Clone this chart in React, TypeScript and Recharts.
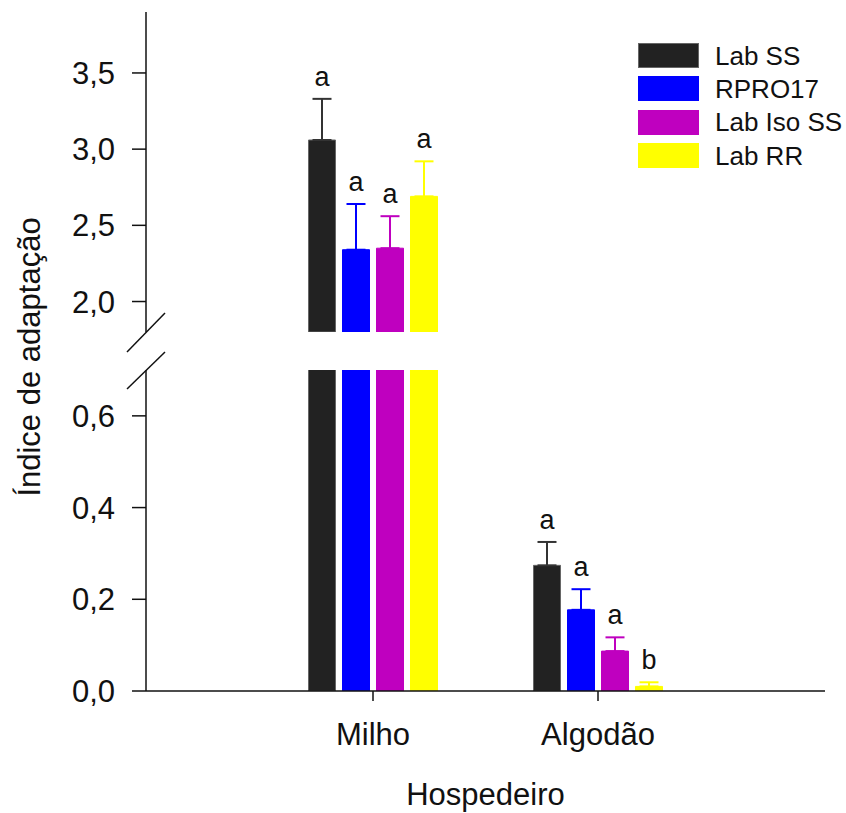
import React from 'react';
import { BarChart, Bar, XAxis, YAxis, ErrorBar, LabelList, Legend, Label } from 'recharts';

const categories = ['Milho', 'Algodão'];
const seriesNames = ['Lab SS', 'RPRO17', 'Lab Iso SS', 'Lab RR'];

const labSS = [3.06, 0.274];
const labSSErr = [0.27, 0.051];
const labSSLetters = ['a', 'a'];

const rpro17 = [2.34, 0.177];
const rpro17Err = [0.30, 0.045];
const rpro17Letters = ['a', 'a'];

const labIsoSS = [2.35, 0.087];
const labIsoSSErr = [0.21, 0.030];
const labIsoSSLetters = ['a', 'a'];

const labRR = [2.69, 0.010];
const labRRErr = [0.23, 0.009];
const labRRLetters = ['a', 'b'];

const upperTicks = [2.0, 2.5, 3.0, 3.5];
const lowerTicks = [0, 0.2, 0.4, 0.6];
const upperDomain: [number, number] = [1.8, 3.9];
const lowerDomain: [number, number] = [0, 0.7];

const FONT = '"Liberation Sans", Arial, Helvetica, sans-serif';

const series = [
  { key: 's0', name: seriesNames[0], values: labSS, errs: labSSErr, letters: labSSLetters, fill: '#222222', stroke: '#666666', err: '#333333' },
  { key: 's1', name: seriesNames[1], values: rpro17, errs: rpro17Err, letters: rpro17Letters, fill: '#0000ff', stroke: '#0000ff', err: '#0000ff' },
  { key: 's2', name: seriesNames[2], values: labIsoSS, errs: labIsoSSErr, letters: labIsoSSLetters, fill: '#bf00bf', stroke: '#bf00bf', err: '#bf00bf' },
  { key: 's3', name: seriesNames[3], values: labRR, errs: labRRErr, letters: labRRLetters, fill: '#ffff00', stroke: '#ffff00', err: '#ffff00' },
];

// Build the table for one segment of the broken axis: values under the segment's floor are left out.
function buildData(domain: [number, number]) {
  return categories.map((c, i) => {
    const row: any = { name: c };
    series.forEach((s) => {
      const v = s.values[i];
      const visible = v >= domain[0];
      row[s.key] = visible ? v : null;
      row[s.key + 'Err'] = visible ? [0, s.errs[i]] : null;
    });
    return row;
  });
}

const upperData = buildData(upperDomain);
const lowerData = buildData(lowerDomain);

const fmt = (v: number) => v.toFixed(1).replace('.', ',');

function makeLetter(s: any, domain: [number, number]) {
  return (props: any) => {
    const vb = props.viewBox || {};
    const x = props.x ?? vb.x;
    const y = props.y ?? vb.y;
    const width = props.width ?? vb.width;
    const height = props.height ?? vb.height;
    const index = props.index;
    const value = s.values[index];
    if (value == null || value < domain[0] || value > domain[1]) return null;
    const top = Math.min(y, y + height);
    const h = Math.abs(height);
    const ppu = h / (value - domain[0]);
    const ly = top - s.errs[index] * ppu - 13;
    return (
      <text x={x + width / 2} y={ly} textAnchor="middle" fontSize={27} fontFamily={FONT} fill="#111">
        {s.letters[index]}
      </text>
    );
  };
}

const LegendContent = () => (
  <div style={{ fontFamily: FONT }}>
    {series.map((s) => (
      <div key={s.key} style={{ display: 'flex', alignItems: 'center', height: 33.3 }}>
        <div style={{ width: 61, height: 25, background: s.fill, boxSizing: 'border-box', border: s.key === 's0' ? '1px solid #666' : 'none' }} />
        <span style={{ marginLeft: 16, fontSize: 26, color: '#111', lineHeight: '26px' }}>{s.name}</span>
      </div>
    ))}
  </div>
);

function renderBars(domain: [number, number]) {
  return series.map((s) => (
    <Bar key={s.key} dataKey={s.key} name={s.name} fill={s.fill} stroke={s.stroke} strokeWidth={1} barSize={27} isAnimationActive={false}>
      <ErrorBar dataKey={s.key + 'Err'} width={9.5} stroke={s.err} strokeWidth={2} direction="y" />
      <LabelList dataKey={s.key} content={makeLetter(s, domain)} />
    </Bar>
  ));
}

const tickStyle = { fontSize: 31, fontFamily: FONT, fill: '#111' };

export default function App() {
  return (
    <div style={{ position: 'absolute', left: 0, top: 0, width: 846, height: 813, background: '#fff' }}>
      <div style={{ position: 'absolute', left: 0, top: 0 }}>
        <BarChart width={846} height={345} data={upperData} margin={{ top: 12, right: 21, bottom: 13, left: 0 }} barGap={7}>
          <XAxis dataKey="name" hide padding={{ left: 114.5, right: 114.5 }} />
          <YAxis
            width={146}
            domain={upperDomain}
            ticks={upperTicks}
            allowDataOverflow
            tickFormatter={fmt}
            tickSize={14}
            tickMargin={17}
            tick={tickStyle}
            axisLine={{ stroke: '#111', strokeWidth: 1.5 }}
            tickLine={{ stroke: '#111', strokeWidth: 1.5 }}
          />
          {renderBars(upperDomain)}
          <Legend
            layout="horizontal"
            align="center"
            verticalAlign="middle"
            wrapperStyle={{ left: 638, top: 39, width: 210, height: 140 }}
            content={LegendContent}
          />
        </BarChart>
      </div>
      <div style={{ position: 'absolute', left: 0, top: 345 }}>
        <BarChart width={846} height={468} data={lowerData} margin={{ top: 25, right: 21, bottom: 0, left: 0 }} barGap={7}>
          <XAxis
            dataKey="name"
            padding={{ left: 114.5, right: 114.5 }}
            height={122}
            tickSize={10}
            tickMargin={22}
            tick={tickStyle}
            axisLine={{ stroke: '#111', strokeWidth: 1.5 }}
            tickLine={{ stroke: '#111', strokeWidth: 1.5 }}
          >
            <Label value="Hospedeiro" position="insideBottom" offset={8} style={{ fontSize: 31, fontFamily: FONT, fill: '#111' }} />
          </XAxis>
          <YAxis
            width={146}
            domain={lowerDomain}
            ticks={lowerTicks}
            allowDataOverflow
            tickFormatter={fmt}
            tickSize={14}
            tickMargin={17}
            tick={tickStyle}
            axisLine={{ stroke: '#111', strokeWidth: 1.5 }}
            tickLine={{ stroke: '#111', strokeWidth: 1.5 }}
          />
          {renderBars(lowerDomain)}
        </BarChart>
      </div>
      <svg width={846} height={813} style={{ position: 'absolute', left: 0, top: 0, pointerEvents: 'none' }}>
        <line x1={127} y1={352} x2={165} y2={313} stroke="#111" strokeWidth={1.5} />
        <line x1={127} y1={389} x2={165} y2={352} stroke="#111" strokeWidth={1.5} />
        <text
          x={0}
          y={0}
          transform="translate(40, 357) rotate(-90)"
          textAnchor="middle"
          fontSize={31}
          fontFamily={FONT}
          fill="#111"
        >
          Índice de adaptação
        </text>
      </svg>
    </div>
  );
}
